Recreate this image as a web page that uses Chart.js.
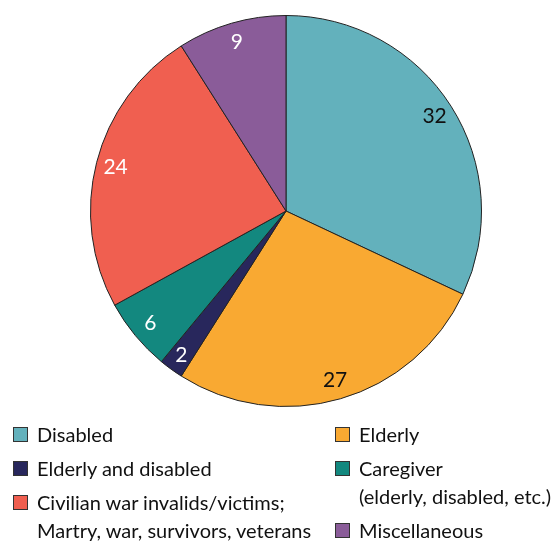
<!DOCTYPE html>
<html>
<head>
<meta charset="utf-8">
<script src="https://cdn.jsdelivr.net/npm/chart.js@4"></script>
<style>
    html, body { margin: 0; padding: 0; background: #fff; }
    #wrap { position: relative; width: 560px; height: 541px; overflow: hidden; }
    #pie { position: absolute; left: 0; top: 0; }
    .leg { position: absolute; font-family: Lato, 'Open Sans', sans-serif; font-size: 20px; color: #111; line-height: 28px; white-space: nowrap; }
    .leg i { position: absolute; left: 0; top: 7px; width: 13px; height: 13px; border: 1px solid #333; }
    .leg span { display: block; padding-left: 24px; }
</style>
</head>
<body>
<div id="wrap">
    <canvas id="pie" width="560" height="541"></canvas>
    <div id="legend"></div>
</div>
<script>
var categories = ['Disabled', 'Elderly', 'Elderly and disabled', 'Caregiver (elderly, disabled, etc.)', 'Civilian war invalids/victims; Martry, war, survivors, veterans', 'Miscellaneous'];
var shares = [32, 27, 2, 6, 24, 9];
var sliceColors = ['#63B1BC', '#F9A932', '#28275C', '#13887F', '#F05F50', '#8A5C99'];
var labelColors = ['#111', '#111', '#fff', '#fff', '#fff', '#fff'];

// legend entries: [index, lines, left, top]
var legendItems = [
    [0, ['Disabled'], 13, 420],
    [1, ['Elderly'], 335, 420],
    [2, ['Elderly and disabled'], 13, 454],
    [3, ['Caregiver', '(elderly, disabled, etc.)'], 335, 454],
    [4, ['Civilian war invalids/victims;', 'Martry, war, survivors, veterans'], 13, 488],
    [5, ['Miscellaneous'], 335, 516]
];

var legendEl = document.getElementById('legend');
legendItems.forEach(function (it) {
    var d = document.createElement('div');
    d.className = 'leg';
    d.style.left = it[2] + 'px';
    d.style.top = it[3] + 'px';
    var sw = document.createElement('i');
    sw.style.background = sliceColors[it[0]];
    d.appendChild(sw);
    it[1].forEach(function (line) {
        var s = document.createElement('span');
        s.textContent = line;
        d.appendChild(s);
    });
    legendEl.appendChild(d);
});

var sliceLabels = {
    id: 'sliceLabels',
    afterDatasetsDraw: function (chart) {
        var c = chart.ctx;
        var meta = chart.getDatasetMeta(0);
        c.save();
        c.font = '21px Lato, "Open Sans", sans-serif';
        c.textAlign = 'center';
        c.textBaseline = 'middle';
        meta.data.forEach(function (arc, i) {
            var p = arc.getProps(['x', 'y', 'startAngle', 'endAngle', 'outerRadius'], true);
            var mid = (p.startAngle + p.endAngle) / 2;
            var r = p.outerRadius * (shares[i] < 5 ? 0.91 : 0.9);
            c.fillStyle = labelColors[i];
            c.fillText(String(shares[i]), p.x + Math.cos(mid) * r, p.y + Math.sin(mid) * r);
        });
        c.restore();
    }
};

new Chart(document.getElementById('pie'), {
    type: 'pie',
    data: {
        labels: categories,
        datasets: [{
            data: shares,
            backgroundColor: sliceColors,
            borderColor: '#222',
            borderWidth: 1
        }]
    },
    options: {
        responsive: false,
        animation: false,
        layout: { padding: { left: 90, right: 78, top: 15, bottom: 134 } },
        plugins: { legend: { display: false }, tooltip: { enabled: false } }
    },
    plugins: [sliceLabels]
});
</script>
</body>
</html>
